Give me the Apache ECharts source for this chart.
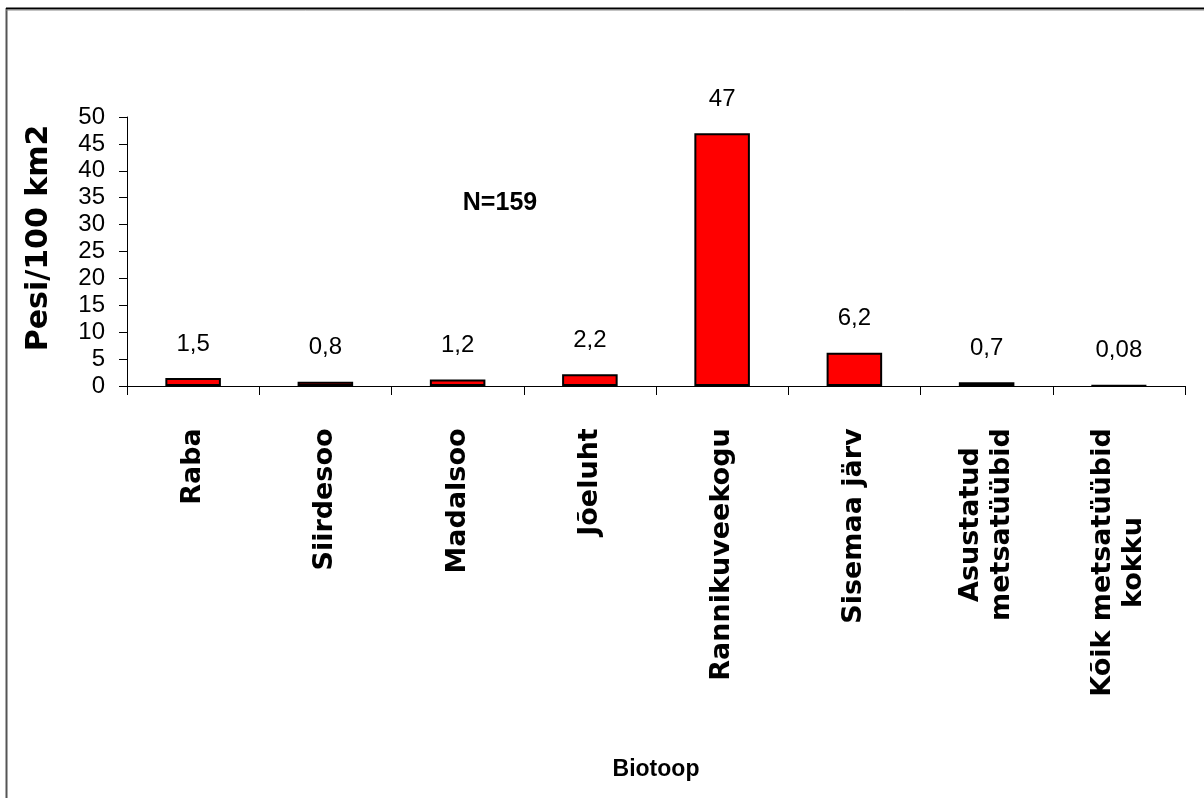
<!DOCTYPE html>
<html>
<head>
<meta charset="utf-8">
<title>Pesi/100 km2 biotoobiti</title>
<script src="https://cdn.jsdelivr.net/npm/echarts@6/dist/echarts.min.js"></script>
<style>
  html, body { margin: 0; padding: 0; background: #fff; }
  #chart { width: 1204px; height: 798px; }
</style>
</head>
<body>
<div id="chart"></div>
<script>
// Biotoopide nimed ja pesade tihedus (pesi 100 km2 kohta)
const categories = [
  'Raba',
  'Siirdesoo',
  'Madalsoo',
  'Jõeluht',
  'Rannikuveekogu',
  'Sisemaa järv',
  'Asustatud\nmetsatüübid',
  'Kõik metsatüübid\nkokku'
];
const density = [1.5, 0.8, 1.2, 2.2, 47, 6.2, 0.7, 0.08];
const yTicks = { min: 0, max: 50, interval: 5 };
const sampleNote = 'N=159';
const yTitle = 'Pesi/100 km2';

const sans = "'Liberation Sans', Arial, sans-serif";
const wide = "'DejaVu Sans', 'Liberation Sans', sans-serif";
const catFont = { family: wide, weight: 'bold', size: 27 };

// Width of each category label's widest line, so the lines of a
// multi-line label can be centred on one another.
const measureCtx = document.createElement('canvas').getContext('2d');
measureCtx.font = catFont.weight + ' ' + catFont.size + 'px ' + catFont.family;
const catRich = {};
categories.forEach(function (name, i) {
  const lines = name.split('\n');
  const w = Math.ceil(Math.max.apply(null, lines.map(function (s) {
    return measureCtx.measureText(s).width;
  })));
  catRich['c' + i] = {
    width: w,
    align: 'center',
    fontFamily: catFont.family,
    fontWeight: catFont.weight,
    fontSize: catFont.size,
    lineHeight: 31,
    color: '#000'
  };
});

const chart = echarts.init(document.getElementById('chart'), null, { renderer: 'canvas' });

chart.setOption({
  backgroundColor: '#ffffff',
  animation: false,
  title: {
    text: sampleNote,
    left: 495,
    top: 198,
    textAlign: 'center',
    textVerticalAlign: 'middle',
    textStyle: { fontFamily: sans, fontWeight: 'bold', fontSize: 25, color: '#000' }
  },
  grid: { left: 127, right: 19, top: 117, bottom: 412, containLabel: false },
  xAxis: {
    type: 'category',
    data: categories,
    name: 'Biotoop',
    nameLocation: 'middle',
    nameGap: 372,
    nameTextStyle: { fontFamily: sans, fontWeight: 'bold', fontSize: 23, color: '#000' },
    axisLine: { lineStyle: { color: '#000', width: 1 } },
    axisTick: { show: true, length: 9, lineStyle: { color: '#000' } },
    axisLabel: {
      rotate: 90,
      margin: 42,
      interval: 0,
      color: '#000',
      formatter: function (v, idx) {
        return v.split('\n').map(function (s) { return '{c' + idx + '|' + s + '}'; }).join('\n');
      },
      rich: catRich
    }
  },
  yAxis: {
    type: 'value',
    min: yTicks.min,
    max: yTicks.max,
    interval: yTicks.interval,
    axisLine: { show: true, lineStyle: { color: '#000', width: 1 } },
    axisTick: { show: true, length: 8, lineStyle: { color: '#000' } },
    splitLine: { show: false },
    axisLabel: {
      margin: 22,
      fontFamily: sans,
      fontSize: 24,
      color: '#000',
      showMinLabel: true,
      showMaxLabel: true,
      hideOverlap: false
    }
  },
  series: [{
    type: 'bar',
    data: density,
    barWidth: '42%',
    itemStyle: { color: '#ff0000', borderColor: '#000', borderWidth: 2 },
    label: {
      show: true,
      position: 'top',
      distance: 22,
      fontFamily: sans,
      fontSize: 24,
      color: '#000',
      formatter: function (p) { return String(p.value).replace('.', ','); }
    }
  }],
  graphic: [
    // vertical axis title, set a little above the plot's middle
    {
      type: 'text',
      x: 39,
      y: 238,
      rotation: Math.PI / 2,
      style: {
        text: yTitle,
        align: 'center',
        verticalAlign: 'middle',
        fontFamily: wide,
        fontWeight: 'bold',
        fontSize: 30,
        fill: '#000'
      }
    },
    // frame edges
    { type: 'line', shape: { x1: 6.5, y1: 8, x2: 6.5, y2: 798 }, style: { stroke: '#555', lineWidth: 2 } },
    { type: 'line', shape: { x1: 6, y1: 8.5, x2: 1204, y2: 8.5 }, style: { stroke: '#000', lineWidth: 2 } },
    { type: 'line', shape: { x1: 6, y1: 10, x2: 1204, y2: 10 }, style: { stroke: '#888', lineWidth: 1 } }
  ]
});
</script>
</body>
</html>
